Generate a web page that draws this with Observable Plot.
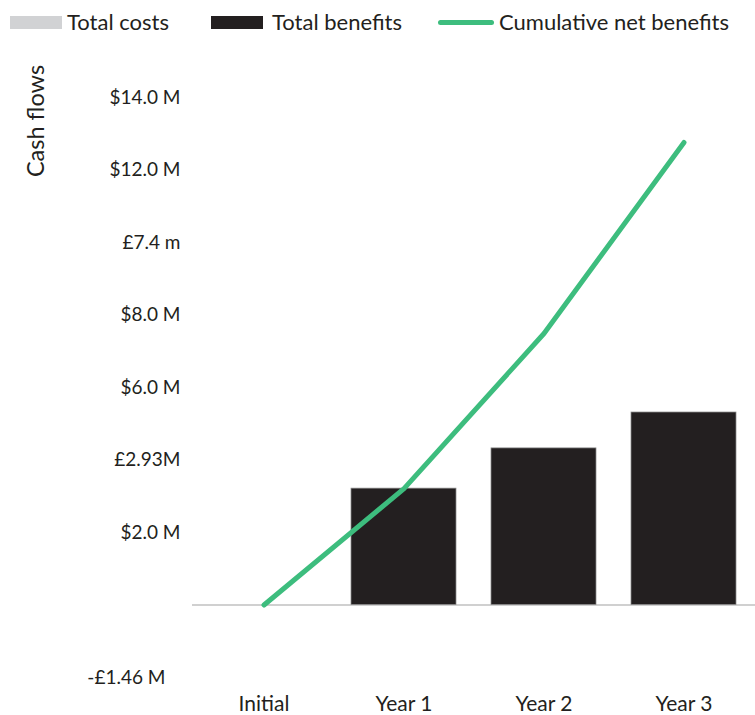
<!DOCTYPE html>
<html>
<head>
<meta charset="utf-8">
<script src="https://cdn.jsdelivr.net/npm/d3@7"></script>
<script src="https://cdn.jsdelivr.net/npm/@observablehq/plot@0.6"></script>
<style>
  html, body { margin: 0; padding: 0; background: #fff; }
  body { width: 755px; height: 715px; overflow: hidden; font-family: Lato, "Open Sans", sans-serif; color: #231f20; }
  #wrap { position: relative; width: 755px; height: 715px; }
  #legend { position: absolute; left: 0; top: 0; width: 755px; height: 40px; z-index: 2; }
  .li { position: absolute; top: 8px; font-size: 22px; line-height: 28px; white-space: nowrap; }
  .sw { position: absolute; }
  #chart { position: absolute; left: 0; top: 40px; z-index: 1; }
  #ylabel { position: absolute; left: 35px; top: 121px; transform: translate(-50%, -50%) rotate(-90deg); font-size: 23.5px; white-space: nowrap; z-index: 3; }
</style>
</head>
<body>
<div id="wrap">
  <div id="legend"></div>
  <div id="chart"></div>
  <div id="ylabel">Cash flows</div>
</div>
<script>
const categories = ["Initial", "Year 1", "Year 2", "Year 3"];
const totalCosts = [0, 0, 0, 0];
const totalBenefits = [0, 3.21, 4.32, 5.31];
const cumulativeNetBenefits = [0, 3.21, 7.49, 12.76];
const yTickValues = [14, 12, 10, 8, 6, 4, 2, 0, -2];
const yTickLabels = ["$14.0 M", "$12.0 M", "£7.4 m", "$8.0 M", "$6.0 M", "£2.93M", "$2.0 M", "", "-£1.46 M"];
const seriesNames = ["Total costs", "Total benefits", "Cumulative net benefits"];
const seriesColors = ["#d1d2d4", "#231f20", "#3dbd7e"];

const data = categories.map((c, i) => ({
  category: c,
  costs: totalCosts[i],
  benefits: totalBenefits[i],
  net: cumulativeNetBenefits[i]
}));
const labelOf = new Map(yTickValues.map((v, i) => [v, yTickLabels[i]]));

// Legend
const legend = document.getElementById("legend");
const legendItems = [
  {name: seriesNames[0], color: seriesColors[0], kind: "rect", sx: 10, tx: 67},
  {name: seriesNames[1], color: seriesColors[1], kind: "rect", sx: 211, tx: 272},
  {name: seriesNames[2], color: seriesColors[2], kind: "line", sx: 438, tx: 499}
];
legendItems.forEach(it => {
  const sw = document.createElement("div");
  sw.className = "sw";
  if (it.kind === "rect") {
    Object.assign(sw.style, {left: it.sx + "px", top: "16px", width: "52px", height: "13px", background: it.color});
  } else {
    Object.assign(sw.style, {left: it.sx + "px", top: "20px", width: "56px", height: "5px", background: it.color, borderRadius: "3px"});
  }
  legend.appendChild(sw);
  const t = document.createElement("div");
  t.className = "li";
  t.style.left = it.tx + "px";
  t.textContent = it.name;
  legend.appendChild(t);
});

const chart = Plot.plot({
  width: 755,
  height: 675,
  marginLeft: 192,
  marginRight: 0,
  marginTop: 57,
  marginBottom: 38,
  style: {fontFamily: "Lato, 'Open Sans', sans-serif", fontSize: "19px", color: "#231f20", background: "transparent"},
  x: {domain: categories, paddingInner: 0.25, paddingOuter: 0.125, label: null},
  y: {domain: [-2, 14], label: null},
  marks: [
    Plot.ruleY([0], {stroke: "#d0d0d0", strokeWidth: 2}),
    Plot.barY(data.filter(d => d.costs !== 0), {x: "category", y: "costs", fill: seriesColors[0]}),
    Plot.barY(data.filter(d => d.benefits > 0), {x: "category", y: "benefits", fill: seriesColors[1], stroke: "#8a8a8a", strokeWidth: 0.75}),
    Plot.lineY(data, {x: "category", y: "net", stroke: seriesColors[2], strokeWidth: 5, strokeLinecap: "round", strokeLinejoin: "round"}),
    Plot.axisX({tickSize: 0, tickPadding: 19, label: null, fontSize: 21}),
    Plot.axisY(yTickValues.filter(v => v !== -2 && labelOf.get(v) !== ""), {tickSize: 0, tickPadding: 12, tickFormat: v => labelOf.get(v), label: null, fontSize: 19}),
    Plot.axisY([-2], {tickSize: 0, tickPadding: 27, tickFormat: v => labelOf.get(v), label: null, fontSize: 19})
  ]
});
document.getElementById("chart").appendChild(chart);
</script>
</body>
</html>
